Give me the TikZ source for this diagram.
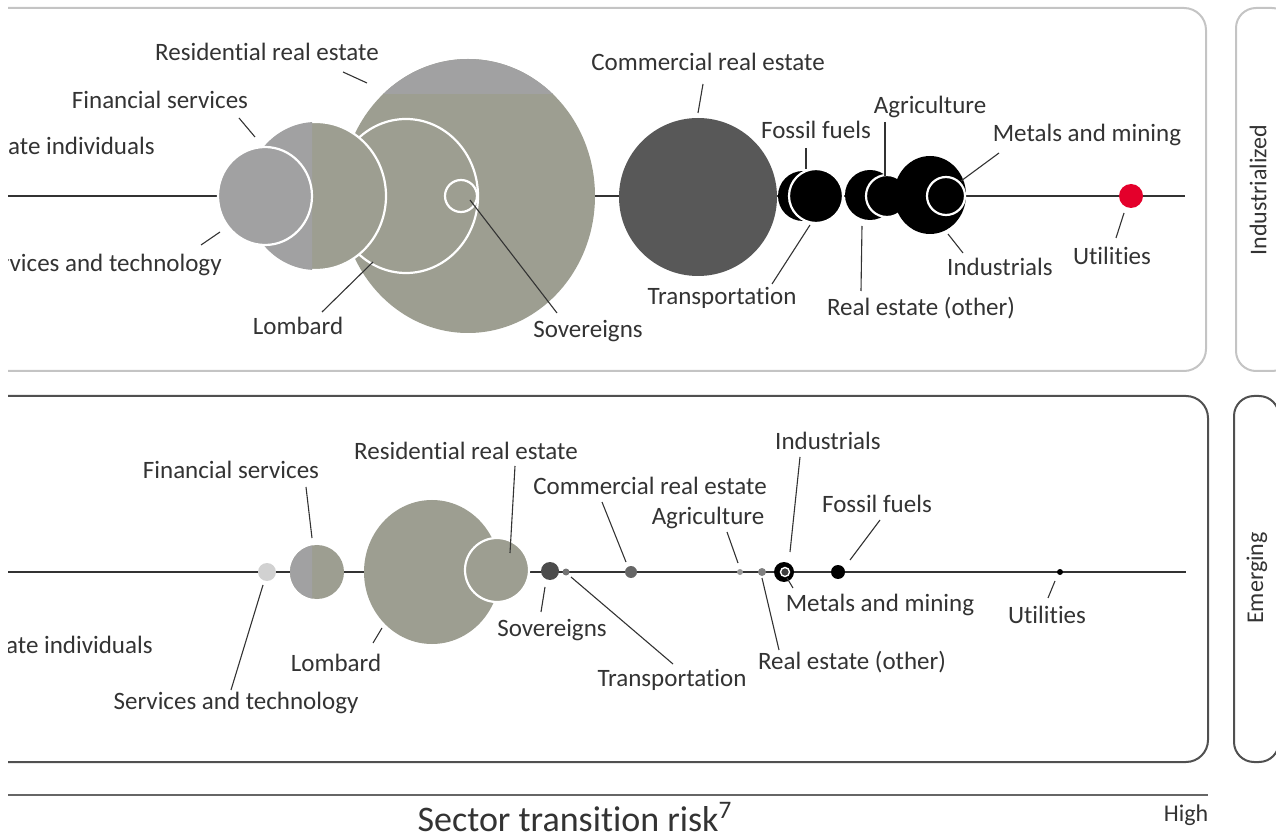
\documentclass[tikz,border=0pt]{standalone}
\usepackage{fontspec}
\setmainfont{Carlito}[Ligatures={NoCommon}]
\definecolor{txt}{HTML}{333333}
\definecolor{sage}{HTML}{9D9E91}
\definecolor{band}{HTML}{A1A1A2}
\definecolor{comm}{HTML}{585858}
\definecolor{ubsred}{HTML}{E4002B}
\definecolor{paneltop}{HTML}{C4C4C4}
\definecolor{panelbot}{HTML}{505050}
\tikzset{
  lbl/.style={font=\fontsize{12.5}{14}\selectfont, text=txt, inner sep=0pt},
  sidelbl/.style={font=\fontsize{12}{14}\selectfont, text=txt, inner sep=0pt, rotate=90},
  leader/.style={draw=txt, line width=0.55pt},
  axisl/.style={draw=txt, line width=0.75pt},
  wring/.style={draw=white, line width=1.1pt},
  ptop/.style={draw=paneltop, line width=1pt},
  pbot/.style={draw=panelbot, line width=1pt},
}
\begin{document}
\begin{tikzpicture}[x=0.5pt,y=-0.5pt]
\useasboundingbox (0,0) rectangle (1276,834);
\begin{scope}
\clip (8,0) rectangle (1276,834);
% ---------- panels ----------
\draw[ptop, rounded corners=11pt] (-40,8) rectangle (1206,371);
\draw[ptop, rounded corners=10pt] (1236,8) rectangle (1292,371);
\draw[pbot, rounded corners=11pt] (-40,396) rectangle (1208,762);
\draw[pbot, rounded corners=10pt] (1234,396) rectangle (1279,762);
\node[sidelbl] (sideInd) at (1258,190) {Industrialized};
\node[sidelbl] (sideEm) at (1257,578) {Emerging};
% ---------- top panel ----------
\coordinate (tL) at (8,196);
\coordinate (tR) at (1185,196);
\draw[axisl] (tL) -- (tR);
\coordinate (cRes) at (468,196);
\fill[sage] (cRes) ellipse [x radius=127, y radius=137];
\begin{scope}
  \clip (cRes) ellipse [x radius=127, y radius=137];
  \fill[band] (330,50) rectangle (610,94);
\end{scope}
\coordinate (cLom) at (406,196);
\filldraw[fill=sage, wring] (cLom) ellipse [x radius=72, y radius=77];
\coordinate (cSov) at (461,196);
\filldraw[fill=sage, wring] (cSov) circle [radius=16];
\coordinate (cFin) at (316,196);
\filldraw[fill=sage, wring] (cFin) ellipse [x radius=70, y radius=74];
\begin{scope}
  \clip (200,100) rectangle (312,300);
  \fill[band] (cFin) ellipse [x radius=70, y radius=74];
\end{scope}
\coordinate (cPri) at (265,196);
\filldraw[fill=band, wring] (cPri) ellipse [x radius=47, y radius=49];
\coordinate (cCom) at (698,197);
\fill[comm] (cCom) circle [radius=79];
\coordinate (cTra) at (803,196);
\fill[black] (cTra) circle [radius=25];
\coordinate (cFos) at (816,196);
\filldraw[fill=black, wring] (cFos) circle [radius=27];
\coordinate (cReo) at (870,195);
\fill[black] (cReo) circle [radius=25];
\coordinate (cAgr) at (887,196);
\filldraw[fill=black, wring] (cAgr) circle [radius=21];
\coordinate (cInd) at (930,195);
\fill[black] (cInd) ellipse [x radius=36, y radius=39];
\coordinate (cMet) at (946,196);
\filldraw[fill=black, wring] (cMet) circle [radius=19];
\coordinate (cUti) at (1131,196);
\fill[ubsred] (cUti) circle [radius=12];
% top labels
\node[lbl] (tRes) at (267,52) {Residential real estate};
\node[lbl] (tFin) at (160,100) {Financial services};
\node[lbl, anchor=east] (tPri) at (155,146) {Private individuals};
\node[lbl, anchor=east] (tSer) at (222,265) {Services and technology};
\node[lbl] (tLom) at (298,326) {Lombard};
\node[lbl] (tSov) at (588,331) {Sovereigns};
\node[lbl] (tCom) at (708,62) {Commercial real estate};
\node[lbl] (tFos) at (816,130) {Fossil fuels};
\node[lbl] (tAgr) at (930,107) {Agriculture};
\node[lbl] (tMet) at (1087,135) {Metals and mining};
\node[lbl] (tTra) at (722,298) {Transportation};
\node[lbl] (tReo) at (921,308) {Real estate (other)};
\node[lbl] (tInd) at (1000,267) {Industrials};
\node[lbl] (tUti) at (1112,256) {Utilities};
% top leaders
\coordinate (a1) at (343,72);  \coordinate (a2) at (367,83);
\draw[leader] (a1) -- (a2);
\coordinate (b1) at (239,118); \coordinate (b2) at (255,137);
\draw[leader] (b1) -- (b2);
\coordinate (c1) at (201,245); \coordinate (c2) at (220,232);
\draw[leader] (c1) -- (c2);
\coordinate (d1) at (322,312); \coordinate (d2) at (373,262);
\draw[leader] (d1) -- (d2);
\coordinate (e1) at (470,200); \coordinate (e2) at (557,313);
\draw[leader] (e1) -- (e2);
\coordinate (f1) at (703,84);  \coordinate (f2) at (698,113);
\draw[leader] (f1) -- (f2);
\coordinate (g1) at (806,148); \coordinate (g2) at (806,169);
\draw[leader] (g1) -- (g2);
\coordinate (h1) at (885,122); \coordinate (h2) at (885,176);
\draw[leader] (h1) -- (h2);
\coordinate (i1) at (999,153); \coordinate (i2) at (961,181);
\draw[leader] (i1) -- (i2);
\coordinate (j1) at (810,225); \coordinate (j2) at (772,284);
\draw[leader] (j1) -- (j2);
\coordinate (k1) at (862,226); \coordinate (k2) at (861,291);
\draw[leader] (k1) -- (k2);
\coordinate (l1) at (948,234); \coordinate (l2) at (963,253);
\draw[leader] (l1) -- (l2);
\coordinate (m1) at (1124,213); \coordinate (m2) at (1116,238);
\draw[leader] (m1) -- (m2);
% ---------- bottom panel ----------
\coordinate (bL) at (8,572);
\coordinate (bR) at (1186,572);
\draw[axisl] (bL) -- (bR);
\coordinate (dSer) at (267,572);
\fill[black!18] (dSer) circle [radius=9];
\coordinate (dFin) at (317,572);
\fill[sage] (dFin) circle [radius=27];
\begin{scope}
  \clip (280,530) rectangle (312,620);
  \fill[band] (dFin) circle [radius=27];
\end{scope}
\coordinate (dLom) at (432,572);
\fill[sage] (dLom) ellipse [x radius=68, y radius=72];
\coordinate (dRes) at (497,570);
\filldraw[fill=sage, wring] (dRes) circle [radius=32];
\coordinate (dSov) at (550,571);
\fill[black!70] (dSov) circle [radius=9];
\coordinate (dTra) at (566,572);
\fill[black!55] (dTra) circle [radius=3.5];
\coordinate (dCom) at (631,572);
\fill[black!60] (dCom) circle [radius=6];
\coordinate (dAgr) at (740,572);
\fill[black!40] (dAgr) circle [radius=3];
\coordinate (dReo) at (762,572);
\fill[black!50] (dReo) circle [radius=4];
\coordinate (dInd) at (784,572);
\fill[black] (dInd) circle [radius=10];
\coordinate (dMet) at (785,572);
\filldraw[fill=black!75, draw=white, line width=0.7pt] (dMet) circle [radius=4.5];
\coordinate (dFos) at (838,572);
\fill[black] (dFos) circle [radius=7];
\coordinate (dUti) at (1060,572);
\fill[black] (dUti) circle [radius=3];
% bottom labels
\node[lbl] (uFin) at (231,470) {Financial services};
\node[lbl] (uRes) at (466,451) {Residential real estate};
\node[lbl] (uCom) at (650,486) {Commercial real estate};
\node[lbl] (uAgr) at (708,518) {Agriculture};
\node[lbl] (uInd) at (828,441) {Industrials};
\node[lbl] (uFos) at (877,504) {Fossil fuels};
\node[lbl] (uMet) at (880,605) {Metals and mining};
\node[lbl] (uUti) at (1047,615) {Utilities};
\node[lbl] (uReo) at (852,662) {Real estate (other)};
\node[lbl] (uTra) at (672,680) {Transportation};
\node[lbl] (uSov) at (552,630) {Sovereigns};
\node[lbl] (uLom) at (336,663) {Lombard};
\node[lbl, anchor=east] (uPri) at (153,645) {Private individuals};
\node[lbl] (uSer) at (236,703) {Services and technology};
% bottom leaders
\coordinate (n1) at (263,585); \coordinate (n2) at (231,690);
\draw[leader] (n1) -- (n2);
\coordinate (o1) at (306,487); \coordinate (o2) at (312,538);
\draw[leader] (o1) -- (o2);
\coordinate (p1) at (382,628); \coordinate (p2) at (373,643);
\draw[leader] (p1) -- (p2);
\coordinate (q1) at (515,466); \coordinate (q2) at (510,553);
\draw[leader] (q1) -- (q2);
\coordinate (r1) at (545,587); \coordinate (r2) at (541,612);
\draw[leader] (r1) -- (r2);
\coordinate (s1) at (571,577); \coordinate (s2) at (673,664);
\draw[leader] (s1) -- (s2);
\coordinate (t1) at (602,502); \coordinate (t2) at (626,562);
\draw[leader] (t1) -- (t2);
\coordinate (v1) at (727,532); \coordinate (v2) at (738,563);
\draw[leader] (v1) -- (v2);
\coordinate (w1) at (800,457); \coordinate (w2) at (790,552);
\draw[leader] (w1) -- (w2);
\coordinate (x1) at (880,520); \coordinate (x2) at (850,560);
\draw[leader] (x1) -- (x2);
\coordinate (y1) at (787,578); \coordinate (y2) at (793,588);
\draw[leader] (y1) -- (y2);
\coordinate (z1) at (762,578); \coordinate (z2) at (779,650);
\draw[leader] (z1) -- (z2);
\coordinate (zz1) at (1055,581); \coordinate (zz2) at (1048,598);
\draw[leader] (zz1) -- (zz2);
% ---------- x axis ----------
\coordinate (xL) at (8,795);
\coordinate (xR) at (1208,795);
\draw[draw=black!60, line width=1.2pt] (xL) -- (xR);
\node[font=\fontsize{18}{20}\selectfont, text=txt, inner sep=0pt, anchor=base] (xTitle) at (575,831) {Sector transition risk\textsuperscript{7}};
\node[font=\fontsize{12}{14}\selectfont, text=txt, inner sep=0pt] (xHigh) at (1186,815) {High};
\end{scope}
\end{tikzpicture}
\end{document}
